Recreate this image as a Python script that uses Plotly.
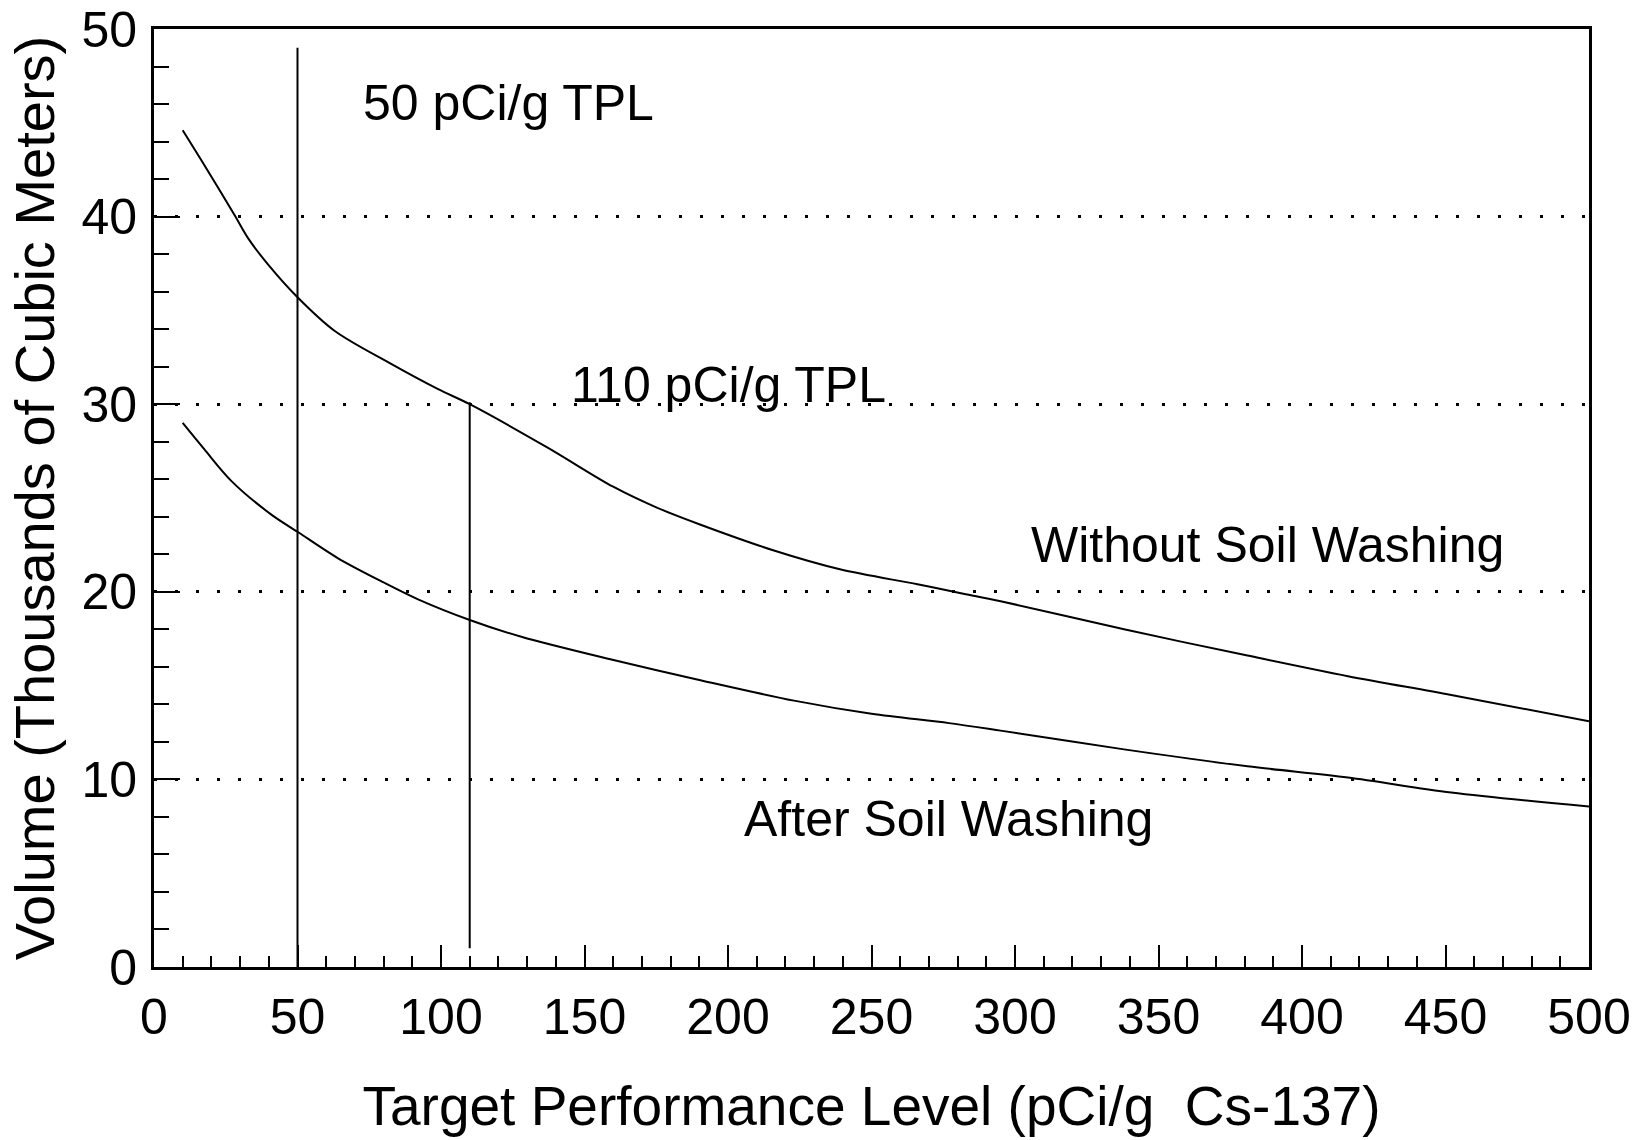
import plotly.graph_objects as go

# Target performance level (pCi/g Cs-137) and volume (thousands of m^3)
tpl_without = [10, 16.5, 28, 33, 40, 50, 63, 82, 99, 110, 137, 160, 175, 190,
               216, 239, 266, 282, 295, 338, 381, 416, 452, 500]
vol_without = [44.6, 43.0, 40.1, 38.8, 37.4, 35.7, 33.9, 32.2, 30.8, 30.0, 27.7,
               25.6, 24.5, 23.6, 22.2, 21.2, 20.4, 19.9, 19.5, 18.0, 16.6, 15.5,
               14.5, 13.1]

tpl_after = [10, 17.5, 27, 41, 50, 64, 80, 92, 110, 128, 159, 190, 223, 250,
             277, 295, 338, 381, 416, 452, 500]
vol_after = [29.0, 27.6, 25.9, 24.1, 23.2, 21.8, 20.5, 19.6, 18.5, 17.6, 16.4,
             15.3, 14.2, 13.5, 13.0, 12.6, 11.6, 10.7, 10.1, 9.3, 8.55]

# Reference TPL markers (vertical lines)
tpl50_x = [50, 50]
tpl50_y = [0, 49]
tpl110_x = [110, 110]
tpl110_y = [1, 30.1]

# Text labels: (x, y, text)
labels = [
    (72, 46.05, "50 pCi/g TPL"),
    (144.5, 31.0, "110 pCi/g TPL"),
    (305, 22.5, "Without Soil Washing"),
    (205, 7.9, "After Soil Washing"),
]

x_ticks = list(range(0, 501, 50))
y_ticks = list(range(0, 51, 10))

FONT = "Liberation Sans, Arial, Helvetica, sans-serif"
INK = "black"

fig = go.Figure()
line_style = dict(color=INK, width=2)
fig.add_trace(go.Scatter(x=tpl_without, y=vol_without, mode="lines",
                         line=dict(shape="spline", smoothing=0.9, **line_style),
                         name="Without Soil Washing"))
fig.add_trace(go.Scatter(x=tpl_after, y=vol_after, mode="lines",
                         line=dict(shape="spline", smoothing=0.9, **line_style),
                         name="After Soil Washing"))
fig.add_trace(go.Scatter(x=tpl50_x, y=tpl50_y, mode="lines", line=line_style,
                         name="50 pCi/g TPL"))
fig.add_trace(go.Scatter(x=tpl110_x, y=tpl110_y, mode="lines", line=line_style,
                         name="110 pCi/g TPL"))

for lx, ly, txt in labels:
    fig.add_annotation(x=lx, y=ly, text=txt, showarrow=False, xanchor="left",
                       yanchor="middle", font=dict(family=FONT, size=50, color=INK))

fig.update_layout(
    width=1644, height=1140,
    margin=dict(l=154, r=55, t=29, b=173),
    paper_bgcolor="white", plot_bgcolor="white",
    showlegend=False,
    font=dict(family=FONT, color=INK),
)

fig.update_xaxes(
    range=[0, 500], tickvals=x_ticks, ticktext=[str(v) for v in x_ticks],
    ticks="inside", ticklen=22, tickwidth=2, tickcolor=INK,
    minor=dict(ticks="inside", dtick=10, ticklen=11, tickwidth=2, tickcolor=INK,
               showgrid=False),
    showline=True, linecolor=INK, linewidth=3, mirror=True,
    showgrid=False, zeroline=False, automargin=False,
    tickfont=dict(family=FONT, size=50, color=INK),
    ticklabelstandoff=4, ticklabeloverflow="allow",
    title=dict(text="Target Performance Level (pCi/g  Cs-137)",
               font=dict(family=FONT, size=55, color=INK), standoff=43),
)

fig.update_yaxes(
    range=[0, 50], tickvals=y_ticks, ticktext=[str(v) for v in y_ticks],
    ticks="inside", ticklen=26, tickwidth=2, tickcolor=INK,
    minor=dict(ticks="inside", dtick=2, ticklen=15, tickwidth=2, tickcolor=INK,
               showgrid=False),
    showline=True, linecolor=INK, linewidth=3, mirror=True,
    showgrid=True, gridcolor=INK, gridwidth=2.5, griddash="3px,18px",
    zeroline=False, automargin=False,
    tickfont=dict(family=FONT, size=50, color=INK),
    ticklabelstandoff=4, ticklabeloverflow="allow",
    title=dict(text="Volume (Thousands of Cubic Meters)",
               font=dict(family=FONT, size=56, color=INK), standoff=9),
)

fig.write_html("out.html")
